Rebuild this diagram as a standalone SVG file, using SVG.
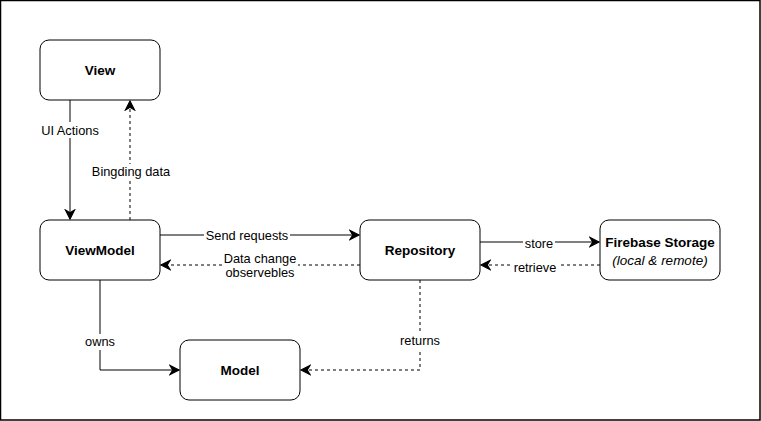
<svg xmlns="http://www.w3.org/2000/svg" width="761" height="421" viewBox="0 0 761 421">
<style>
.node rect{fill:#fff;stroke:#000;stroke-width:1}
.nl{font-family:"Liberation Sans",Arial,sans-serif;font-size:13.5px;font-weight:bold;text-anchor:middle;fill:#000}
.ni{font-family:"Liberation Sans",Arial,sans-serif;font-size:13.5px;font-style:italic;text-anchor:middle;fill:#000}
.el{font-family:"Liberation Sans",Arial,sans-serif;font-size:12.8px;text-anchor:middle;fill:#000}
.c{fill:none;stroke:#000;stroke-width:1}
.d{stroke-dasharray:3 3}
.bg{fill:#fff}
</style>
<defs>
<marker id="arr" markerUnits="userSpaceOnUse" markerWidth="12" markerHeight="12" viewBox="-8 -5 9 10" refX="0" refY="0" orient="auto">
<path d="M0,0 L-7.5,-3.8 L-5.2,0 L-7.5,3.8 Z" fill="#000" stroke="#000" stroke-width="1" stroke-linejoin="miter"/>
</marker>
</defs>
<rect x="0.5" y="0.5" width="759.5" height="419.5" fill="#fff" stroke="#000" stroke-width="1.5"/>
<g id="connectors">
<path class="c" d="M70,100 V219" marker-end="url(#arr)"/>
<path class="c d" d="M130,220 V101" marker-end="url(#arr)"/>
<path class="c" d="M160,235 H359" marker-end="url(#arr)"/>
<path class="c d" d="M360,265 H161" marker-end="url(#arr)"/>
<path class="c" d="M480,242 H599" marker-end="url(#arr)"/>
<path class="c d" d="M600,265 H481" marker-end="url(#arr)"/>
<path class="c" d="M100,280 V370 H179" marker-end="url(#arr)"/>
<path class="c d" d="M420,280 V370 H301" marker-end="url(#arr)"/>
<rect class="bg" x="40" y="122" width="60" height="16"/>
<text class="el" x="70" y="134.5">UI Actions</text>
<rect class="bg" x="91" y="164" width="80" height="16"/>
<text class="el" x="131" y="176.2">Bingding data</text>
<rect class="bg" x="204" y="227" width="86" height="16"/>
<text class="el" x="247" y="239.5">Send requests</text>
<rect class="bg" x="222" y="250" width="76" height="31"/>
<text class="el" x="260" y="262.8">Data change</text>
<text class="el" x="260" y="277.2">observebles</text>
<rect class="bg" x="523" y="235" width="32" height="15"/>
<text class="el" x="539" y="247.5">store</text>
<rect class="bg" x="513" y="259" width="45" height="16"/>
<text class="el" x="535" y="271.5">retrieve</text>
<rect class="bg" x="83" y="334" width="34" height="16"/>
<text class="el" x="100" y="346.2">owns</text>
<rect class="bg" x="398" y="333" width="44" height="16"/>
<text class="el" x="420" y="345.2">returns</text>
</g>
<g id="view" class="node"><rect x="40" y="40" width="120" height="60" rx="9"/><text class="nl" x="100" y="74.7">View</text></g>
<g id="viewmodel" class="node"><rect x="40" y="220" width="120" height="60" rx="9"/><text class="nl" x="100" y="254.7">ViewModel</text></g>
<g id="repository" class="node"><rect x="360" y="220" width="120" height="60" rx="9"/><text class="nl" x="420" y="254.7">Repository</text></g>
<g id="firebase" class="node"><rect x="600" y="220" width="120" height="60" rx="9"/><text class="nl" x="660" y="247">Firebase Storage</text><text class="ni" x="660" y="264.7">(local &amp; remote)</text></g>
<g id="model" class="node"><rect x="180" y="340" width="120" height="60" rx="9"/><text class="nl" x="240" y="374.7">Model</text></g>
</svg>
